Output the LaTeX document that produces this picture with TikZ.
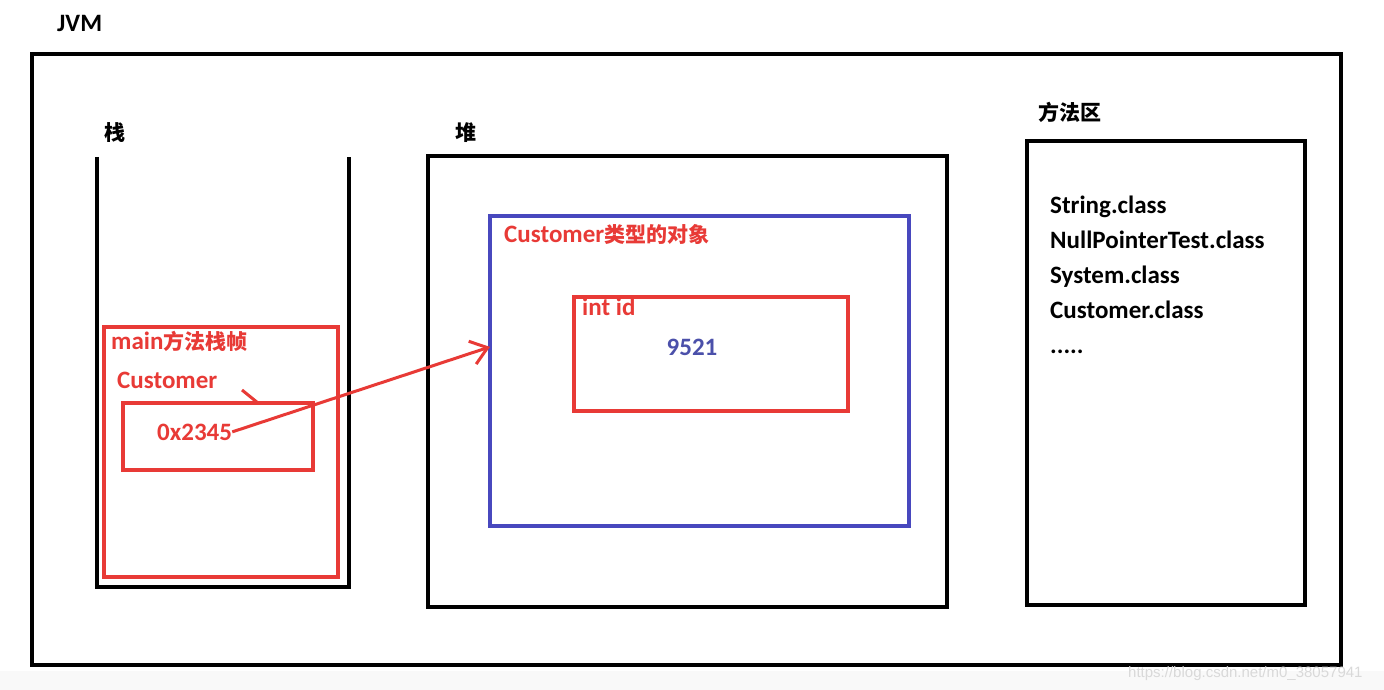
\documentclass[tikz,border=0pt]{standalone}
\usepackage{fontspec}
\setmainfont{Carlito}
\newfontfamily\cjk{Noto Sans CJK SC}
\newfontfamily\wm{Liberation Sans}
\usetikzlibrary{arrows.meta}
\definecolor{pred}{RGB}{232,58,54}
\definecolor{pblue}{RGB}{72,72,190}
\definecolor{tblue}{RGB}{75,80,170}
\newcommand\zh[1]{{\cjk\fontsize{21}{25}\selectfont #1}}
\begin{document}
\begin{tikzpicture}[x=1pt,y=-1pt,
  box/.style={draw, inner sep=0pt, outer sep=0pt, anchor=north west},
  blackbox/.style={box, black, line width=4pt},
  redbox/.style={box, pred, line width=3.5pt},
  bluebox/.style={box, pblue, line width=3.5pt},
  lbl/.style={inner sep=0pt, anchor=base west, font=\fontsize{25}{30}\selectfont\bfseries},
  redlbl/.style={lbl, text=pred},
  ptr/.style={pred, line width=3pt, -{Straight Barb[length=16pt,width=24pt,line width=3pt]}}
  ]
\useasboundingbox (0,0) rectangle (1384,690);
\fill[white] (0,0) rectangle (1384,690);
\fill[gray!5] (0,671) rectangle (1384,690);

% JVM
\node[lbl] (jvmlbl) at (57,32) {JVM};
\node[blackbox, minimum width=1309pt, minimum height=611pt] (jvm) at (32,54) {};

% stack
\node[lbl] (stacklbl) at (104,141) {\zh{栈}};
\node[box, draw=none, minimum width=252pt, minimum height=430pt] (stack) at (97,157) {};
\draw[black, line width=4pt] (stack.north west) |- (stack.south east) -- (stack.north east);
\node[redbox, minimum width=234pt, minimum height=250pt] (frame) at (104,327) {};
\node[redlbl] (framelbl) at (111,349) {main\zh{方法栈帧}};
\node[redlbl] (cust) at (117,388) {Customer};
\node[redbox, minimum width=190pt, minimum height=67pt] (addrbox) at (123,403) {};
\node[redlbl] (addr) at (157,440) {0x2345};
\coordinate (leadA) at (242,390);
\coordinate (leadB) at (258,403);
\draw[pred, line width=3pt] (leadA) -- (leadB);

% heap
\node[lbl] (heaplbl) at (455,141) {\zh{堆}};
\node[blackbox, minimum width=519pt, minimum height=451pt] (heap) at (428,156) {};
\node[bluebox, minimum width=419pt, minimum height=310pt] (obj) at (490,216) {};
\node[redlbl] (objlbl) at (504,242) {Customer\zh{类型的对象}};
\node[redbox, minimum width=274pt, minimum height=114pt] (idbox) at (574,297) {};
\node[redlbl] (idlbl) at (582,315) {int id};
\node[lbl, text=tblue, anchor=base] (val) at (692,355) {9521};

% arrow
\draw[ptr] (addr.east) -- (obj.west |- val.center);

% method area
\node[lbl] (mlbl) at (1038,121) {\zh{方法区}};
\node[blackbox, minimum width=278pt, minimum height=464pt] (method) at (1027,141) {};
\node[lbl] (c1) at (1050,213) {String.class};
\node[lbl] (c2) at (1050,248) {NullPointerTest.class};
\node[lbl] (c3) at (1050,283) {System.class};
\node[lbl] (c4) at (1050,318) {Customer.class};
\node[lbl] (c5) at (1050,353) {.....};

% watermark
\node[inner sep=0pt, anchor=base west, text=gray!30, font=\wm\fontsize{15}{18}\selectfont] (wm) at (1128,677) {https://blog.csdn.net/m0\_38057941};
\end{tikzpicture}
\end{document}
